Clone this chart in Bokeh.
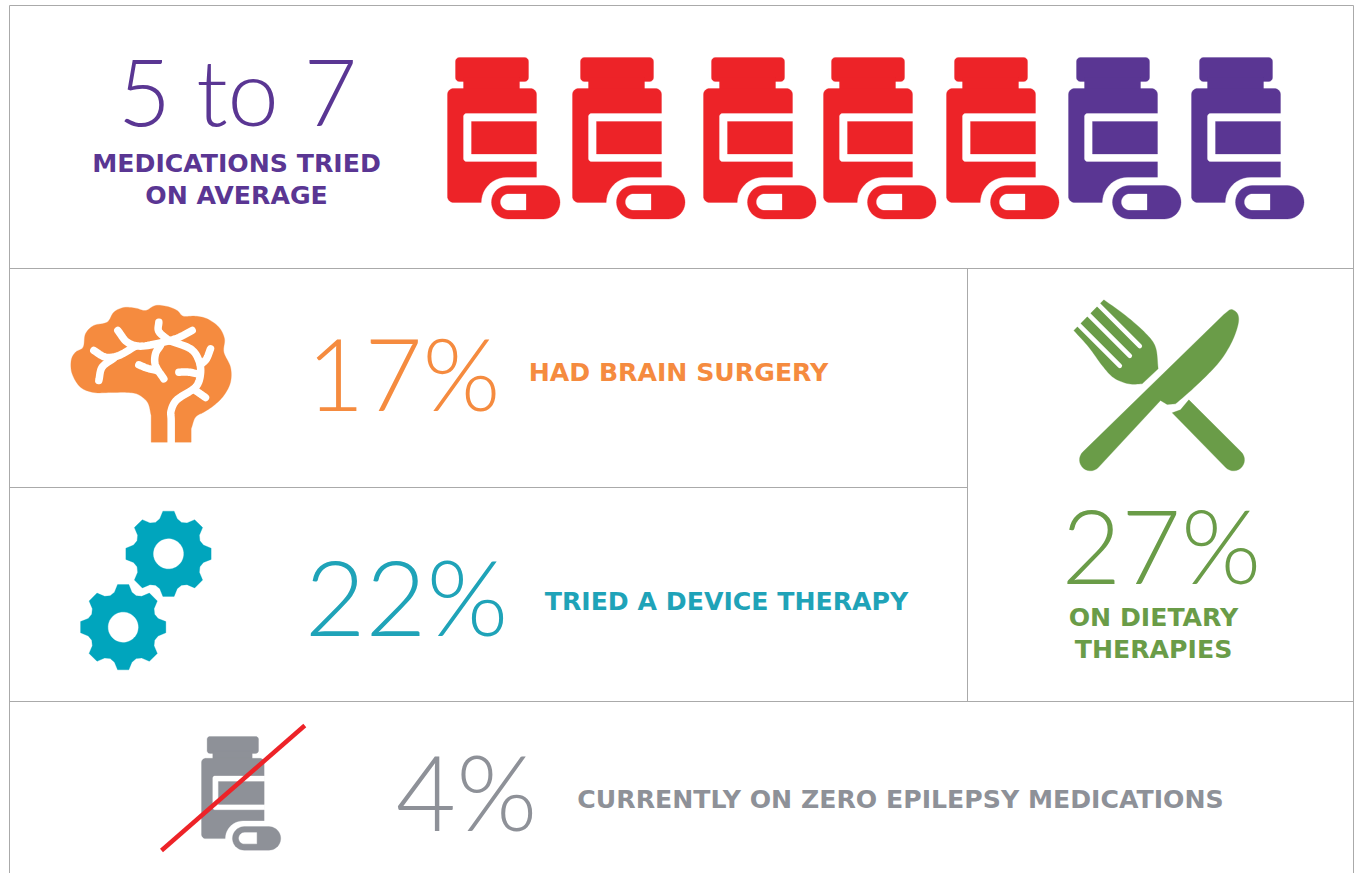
import numpy as np
from bokeh.plotting import figure
from bokeh.core.properties import value
from bokeh.embed import file_html
from bokeh.resources import INLINE

# ---- content ----
RED, PURPLE, ORANGE, TEAL, GREEN, GRAY = "#ed2328", "#5a3693", "#f58b3f", "#00a5bd", "#6a9c48", "#8e9198"
TEAL_TEXT = "#1fa3b8"
bottle_x = [447, 572, 703, 823, 946, 1068, 1191]
bottle_colors = [RED] * 5 + [PURPLE] * 2
BIG_FONT = "Lato Light"
BOLD_FONT = "DejaVu Sans"

big_text = ["5 to 7", "17%", "22%", "27%", "4%"]
big_x = [237, 403, 406, 1161, 466]
big_y = [89.5, 371, 594, 543, 790]
big_color = [PURPLE, ORANGE, TEAL_TEXT, GREEN, GRAY]
big_size = [92, 100, 105, 103, 104]

label_text = ["MEDICATIONS TRIED", "ON AVERAGE", "HAD BRAIN SURGERY", "TRIED A DEVICE THERAPY",
              "ON DIETARY", "THERAPIES", "CURRENTLY ON ZERO EPILEPSY MEDICATIONS"]
label_x = [236, 236, 678, 726, 1153, 1153, 900]
label_y = [163, 195, 371.5, 600.5, 617, 649, 798.5]
label_color = [PURPLE, PURPLE, ORANGE, TEAL_TEXT, GREEN, GREEN, GRAY]
label_size = [25.2, 25.2, 25.2, 25.2, 25.2, 25.2, 25.2]

p = figure(width=1356, height=873, x_range=(0, 1356), y_range=(873, 0), output_backend="svg",
           toolbar_location=None, min_border=0)
p.axis.visible = False
p.grid.visible = False
p.outline_line_color = None
p.background_fill_color = "white"
p.border_fill_color = "white"


def rrect(x0, y0, x1, y1, r):
    """rounded rect polygon; r = (tl, tr, br, bl)"""
    if np.isscalar(r):
        r = (r, r, r, r)
    xs, ys = [], []
    corners = [(x0 + r[0], y0 + r[0], r[0], 180, 270), (x1 - r[1], y0 + r[1], r[1], 270, 360),
               (x1 - r[2], y1 - r[2], r[2], 0, 90), (x0 + r[3], y1 - r[3], r[3], 90, 180)]
    for cx, cy, rad, a0, a1 in corners:
        t = np.radians(np.linspace(a0, a1, 12))
        xs += list(cx + rad * np.cos(t))
        ys += list(cy + rad * np.sin(t))
    return np.array(xs), np.array(ys)


def fill(x, y, color):
    p.patch(list(x), list(y), fill_color=color, line_color=color, line_width=0.3)


def bottle(ox, oy, s, color):
    def R(a, b, c, d, r):
        x, y = rrect(a, b, c, d, r)
        return ox + s * x, oy + s * y
    fill(*R(8, 0, 81, 24, 4), color)
    fill(*R(16, 20, 72, 34, 0.01), color)
    fill(*R(0, 31, 89, 145, (6, 6, 0.01, 6)), color)
    fill(*R(16, 56, 90, 104, (3, 0.01, 0.01, 3)), "white")
    fill(*R(24, 64, 89, 96.5, 0.01), color)
    fill(*R(34, 120, 122, 172, 25), "white")
    fill(*R(44, 128, 112.5, 161.5, 16.7), color)
    fill(*R(53, 136.5, 78.5, 152.5, (8, 0.01, 0.01, 8)), "white")


for x0, c in zip(bottle_x, bottle_colors):
    bottle(x0, 57, 1.0, c)
bottle(201, 736, 0.704, GRAY)


def smooth(pts, n=8, closed=False):
    P = np.array(pts, float)
    if closed:
        Q = np.vstack([P[-1], P, P[0], P[1]])
    else:
        Q = np.vstack([2 * P[0] - P[1], P, 2 * P[-1] - P[-2]])
    out = []
    for i in range(1, len(Q) - 2):
        for t in np.linspace(0, 1, n, endpoint=False):
            a, b, c, d = Q[i - 1], Q[i], Q[i + 1], Q[i + 2]
            out.append(0.5 * (2 * b + (c - a) * t + (2 * a - 5 * b + 4 * c - d) * t ** 2 + (3 * b - a - 3 * c + d) * t ** 3))
    if not closed:
        out.append(P[-1])
    return np.array(out)


def zoomed(arr, ox, oy):
    return ox + arr[:, 0] / 3, oy + arr[:, 1] / 3


def arc(cx, cy, r, a0, a1):
    t = np.radians(np.linspace(a0, a1, 16))
    return np.column_stack([cx + r * np.cos(t), cy + r * np.sin(t)])


# brain (traced)
BX, BY = 60, 295
brain = [(272, 360), (262, 322), (235, 298), (205, 291), (150, 291), (100, 291), (60, 275), (35, 235), (32, 195),
         (45, 170), (68, 155), (75, 115), (100, 90), (140, 80), (160, 50), (190, 36), (225, 38), (255, 45),
         (285, 30), (320, 33), (350, 45), (368, 62), (405, 62), (440, 70), (475, 95), (492, 130), (490, 170),
         (510, 215), (510, 260), (490, 300), (460, 330), (430, 350), (405, 365), (392, 400)]
outline = smooth(brain, closed=False)
outline = np.vstack([[272, 440], outline, [392, 440]])
fill(*zoomed(outline, BX, BY), ORANGE)
channels = [
    [(172, 105), (200, 140), (240, 152), (300, 142), (350, 128), (395, 105)],
    [(295, 80), (295, 108), (325, 135)],
    [(325, 135), (390, 160), (415, 195), (420, 235), (405, 275), (350, 312), (332, 345), (332, 375), (332, 445)],
    [(100, 165), (135, 185), (175, 180), (225, 152)],
    [(115, 255), (125, 215), (160, 188)],
    [(300, 150), (285, 175), (285, 210), (310, 250)],
    [(235, 208), (260, 218), (288, 225)],
    [(355, 230), (385, 230), (415, 236)],
    [(405, 285), (435, 306)],
    [(450, 160), (438, 190), (420, 208)],
]
for ch in channels:
    sx, sy = zoomed(smooth(ch), BX, BY)
    p.line(list(sx), list(sy), line_color="white", line_width=7.5, line_cap="round", line_join="round")


# gears
def gear(cx, cy, color):
    ang, rad = [], []
    for k in range(8):
        th = 90 + 45 * k
        ang += [th - 22.5, th - 14, th - 7.5, th + 7.5, th + 14]
        rad += [34, 36, 43, 43, 36]
    a = np.radians(ang)
    fill(cx + np.array(rad) * np.cos(a), cy - np.array(rad) * np.sin(a), color)
    t = np.radians(np.linspace(0, 360, 60))
    fill(cx + 15 * np.cos(t), cy + 15 * np.sin(t), "white")


gear(168, 553.3, TEAL)
gear(122.7, 626.7, TEAL)

# fork and knife (traced)
FX, FY = 1060, 290
blade = smooth([(490, 72), (512, 57), (532, 72), (532, 105), (510, 162), (470, 222), (400, 292), (345, 340)])
knife = np.vstack([blade, [(320, 342), (300, 330)], arc(90, 508, 33, 45, 225)])
fill(*zoomed(knife, FX, FY), GREEN)
handle = np.vstack([[(385, 328)], arc(519, 508, 33, -45, 135), [(335, 367), (360, 358)]])
fill(*zoomed(handle, FX, FY), GREEN)
head = np.vstack([[(40, 120), (130, 28)],
                  smooth([(130, 28), (195, 75), (255, 128), (285, 170), (293, 235)]),
                  [(245, 280)],
                  smooth([(245, 280), (205, 280), (160, 262), (125, 225), (85, 170), (40, 120)])])
fill(*zoomed(head, FX, FY), GREEN)
for x1, y1 in [(178, 226), (208, 196), (238, 167)]:
    sx, sy = zoomed(np.array([(x1 - 135, y1 - 135), (x1, y1)], float), FX, FY)
    p.line(list(sx), list(sy), line_color="white", line_width=4.5, line_cap="round")

# red strike through
p.line([161, 304.3], [850, 725], line_color=RED, line_width=4.5)

# frame
frame_x = [[9, 1353], [9, 1353], [9, 967], [9, 1353], [9, 9], [1353, 1353], [967, 967]]
frame_y = [[5, 5], [268, 268], [487, 487], [701, 701], [5, 873], [5, 873], [268, 701]]
p.multi_line(frame_x, frame_y, line_color="#aaaaaa", line_width=1)

for t, x, y, c, s in zip(big_text, big_x, big_y, big_color, big_size):
    p.text([x], [y], text=[t], text_color=c, text_font=value(BIG_FONT), text_font_size=f"{s}px",
           text_align="center", text_baseline="middle")
for t, x, y, c, s in zip(label_text, label_x, label_y, label_color, label_size):
    p.text([x], [y], text=[t], text_color=c, text_font=value(BOLD_FONT), text_font_style="bold",
           text_font_size=f"{s}px", text_align="center", text_baseline="middle")

open("out.html", "w").write(file_html(p, INLINE))
